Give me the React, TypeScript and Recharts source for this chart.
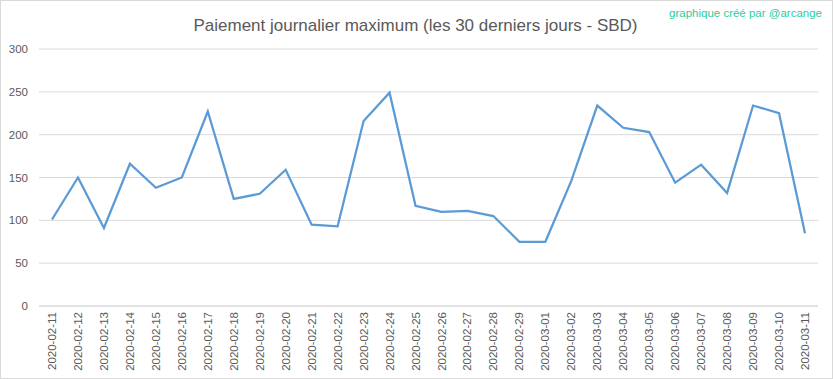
import { LineChart, Line, XAxis, YAxis, CartesianGrid } from "recharts";

const days = [
  "2020-02-11", "2020-02-12", "2020-02-13", "2020-02-14", "2020-02-15",
  "2020-02-16", "2020-02-17", "2020-02-18", "2020-02-19", "2020-02-20",
  "2020-02-21", "2020-02-22", "2020-02-23", "2020-02-24", "2020-02-25",
  "2020-02-26", "2020-02-27", "2020-02-28", "2020-02-29", "2020-03-01",
  "2020-03-02", "2020-03-03", "2020-03-04", "2020-03-05", "2020-03-06",
  "2020-03-07", "2020-03-08", "2020-03-09", "2020-03-10", "2020-03-11",
];

const maxPayout = [
  101, 150, 91, 166, 138, 150, 227, 125, 131, 159,
  95, 93, 216, 249, 117, 110, 111, 105, 75, 75,
  146, 234, 208, 203, 144, 165, 132, 234, 225, 85,
];

const yTicks = [0, 50, 100, 150, 200, 250, 300];

const data = days.map((day, i) => ({ day, value: maxPayout[i] }));

const FONT = "'Liberation Sans', Arial, sans-serif";
const TEXT = "#595959";

function DateTick({ x, y, payload }: any) {
  return (
    <g transform={`translate(${x},${y})`}>
      <text
        transform="rotate(-90)"
        x={2}
        y={0}
        dy="0.35em"
        textAnchor="end"
        fontSize={11.5}
        fontFamily={FONT}
        fill={TEXT}
      >
        {payload.value}
      </text>
    </g>
  );
}

export default function App() {
  return (
    <div
      style={{
        position: "absolute",
        left: 0,
        top: 0,
        width: 833,
        height: 379,
        boxSizing: "border-box",
        border: "1px solid #d9d9d9",
        background: "#fff",
      }}
    >
      <div
        style={{
          position: "absolute",
          left: 0,
          width: 831,
          top: 15,
          textAlign: "center",
          fontFamily: FONT,
          fontSize: 17,
          color: TEXT,
        }}
      >
        <span style={{ position: "relative", left: -1 }}>
          Paiement journalier maximum (les 30 derniers jours - SBD)
        </span>
      </div>
      <div
        style={{
          position: "absolute",
          right: 10,
          top: 6,
          fontFamily: FONT,
          fontSize: 11.5,
          color: "#2ecc9a",
        }}
      >
        graphique créé par @arcange
      </div>
      <div style={{ position: "absolute", left: -1, top: -1 }}>
        <LineChart
          width={833}
          height={379}
          data={data}
          margin={{ top: 49, right: 15, left: 0, bottom: 0 }}
        >
          <CartesianGrid stroke="#d9d9d9" vertical={false} />
          <XAxis
            dataKey="day"
            interval={0}
            height={73}
            padding={{ left: 13, right: 13 }}
            axisLine={{ stroke: "#d9d9d9" }}
            tickLine={false}
            tick={<DateTick />}
          />
          <YAxis
            width={39}
            domain={[0, 300]}
            ticks={yTicks}
            axisLine={false}
            tickLine={false}
            tickMargin={5}
            tick={{ fontSize: 11.5, fontFamily: FONT, fill: TEXT }}
          />
          <Line
            type="linear"
            dataKey="value"
            stroke="#5b9bd5"
            strokeWidth={2.25}
            dot={false}
            isAnimationActive={false}
          />
        </LineChart>
      </div>
    </div>
  );
}
